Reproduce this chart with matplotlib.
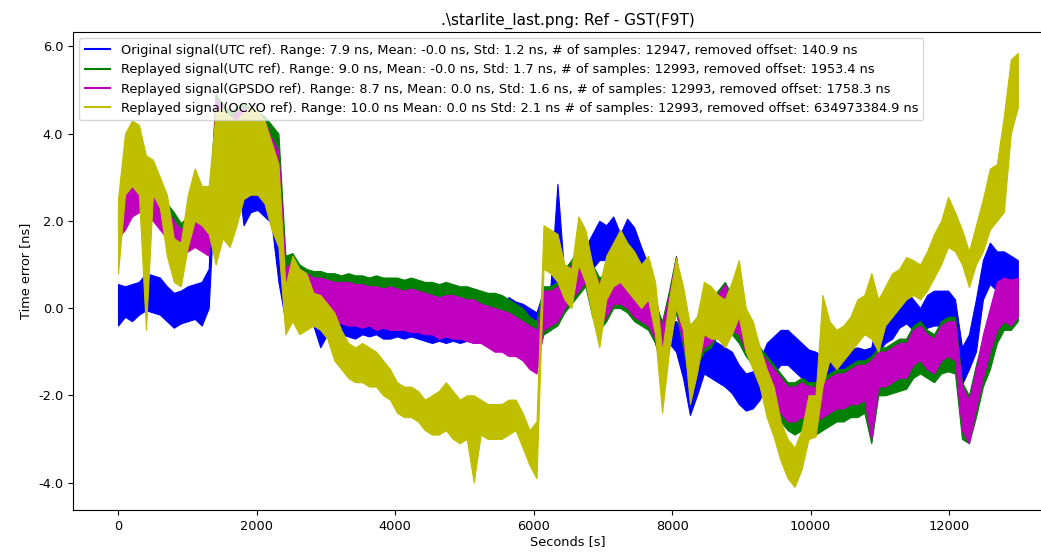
import numpy as np
import matplotlib
matplotlib.use("Agg")
import matplotlib.pyplot as plt
from matplotlib.lines import Line2D
from matplotlib.ticker import FormatStrFormatter

# time grid (s), one sample column every ~100 s
seconds = np.linspace(0, 12990, 130)

blue_hi = [0.55, 0.5, 0.55, 0.6, 0.8, 0.75, 0.7, 0.5, 0.35, 0.4,
           0.5, 0.55, 0.6, 0.9, 4.9, 4.5, 4.4, 4.3, 3.5, 3.1,
           3.0, 2.9, 2.7, 2.0, 0.5, 0.4, 0.2, 0.15, 0.1, 0.0,
           -0.05, -0.05, -0.1, -0.1, -0.1, -0.05, -0.1, -0.1, -0.15, -0.1,
           -0.1, -0.15, -0.1, -0.15, -0.2, -0.25, -0.2, -0.25, -0.2, -0.25,
           -0.2, -0.25, -0.2, -0.2, -0.15, 0.1, 0.25, 0.15, 0.1, 0.0,
           -0.1, 0.4, 0.5, 2.85, 0.7, 0.9, 1.2, 1.4, 1.7, 2.0,
           1.9, 2.1, 1.7, 2.05, 1.85, 1.4, 1.0, 0.3, -0.5, -0.3,
           -0.3, -0.6, -1.0, -1.0, -0.75, -0.7, -0.8, -0.9, -1.0, -1.3,
           -1.5, -1.45, -1.2, -0.8, -0.65, -0.5, -0.5, -0.65, -0.8, -0.95,
           -1.0, -1.1, -1.05, -1.0, -0.95, -0.95, -0.9, -0.95, -0.9, -0.1,
           0.0, 0.0, 0.3, 0.4, 0.2, 0.0, 0.3, 0.4, 0.4, 0.4,
           0.2, -0.9, -0.6, 0.2, 1.1, 1.5, 1.3, 1.3, 1.2, 1.1]
blue_lo = [-0.4, -0.2, -0.3, -0.15, -0.05, -0.1, -0.15, -0.3, -0.45, -0.35,
           -0.3, -0.25, -0.4, 0.0, 3.2, 3.3, 3.3, 3.2, 1.9, 2.2,
           2.25, 2.1, 1.95, 0.6, -0.3, -0.2, -0.3, -0.3, -0.4, -0.9,
           -0.6, -0.65, -0.6, -0.65, -0.7, -0.6, -0.65, -0.6, -0.7, -0.7,
           -0.65, -0.7, -0.65, -0.7, -0.75, -0.8, -0.75, -0.8, -0.75, -0.8,
           -0.75, -0.8, -0.7, -0.75, -0.7, -0.5, -0.4, -0.45, -0.55, -0.7,
           -0.7, -0.6, -0.5, 0.0, -0.1, 0.2, 0.4, 0.5, 0.9, 1.1,
           1.1, 1.25, 1.0, 1.3, 1.1, 0.7, 0.2, -0.8, -1.4, -0.8,
           -1.0, -1.6, -2.45, -2.0, -1.5, -1.6, -1.7, -1.8, -1.95, -2.2,
           -2.35, -2.3, -2.1, -1.7, -1.5, -1.3, -1.3, -1.45, -1.6, -1.7,
           -1.75, -1.8, -1.7, -1.6, -1.55, -1.5, -1.55, -1.6, -1.5, -1.0,
           -0.8, -0.7, -0.45, -0.35, -0.5, -0.6, -0.45, -0.4, -0.4, -0.45,
           -0.7, -1.75, -1.4, -1.0, 0.2, 0.55, 0.4, 0.6, 0.65, 0.5]

green_hi = [2.4, 3.0, 3.25, 3.1, 3.0, 2.8, 2.6, 2.4, 2.2, 1.95,
            2.1, 2.25, 2.2, 2.2, 4.9, 4.7, 4.5, 4.6, 4.7, 4.6,
            4.5, 4.4, 4.2, 4.0, 1.2, 1.26, 1.0, 0.9, 0.85, 0.85,
            0.8, 0.8, 0.75, 0.8, 0.75, 0.75, 0.7, 0.75, 0.7, 0.7,
            0.7, 0.65, 0.7, 0.65, 0.6, 0.6, 0.55, 0.6, 0.55, 0.5,
            0.5, 0.45, 0.4, 0.35, 0.35, 0.3, 0.2, 0.1, 0.0, -0.2,
            -0.3, 0.5, 0.5, 0.6, 0.9, 1.1, 1.4, 1.5, 1.0, 0.7,
            0.8, 0.95, 0.9, 0.8, 0.6, 0.4, 0.4, 0.1, -0.3, 0.4,
            1.2, 0.1, -0.4, -0.2, 0.2, 0.2, 0.4, 0.6, 0.3, 0.0,
            -0.2, -0.5, -0.9, -1.1, -1.3, -1.5, -1.7, -1.7, -1.6, -1.7,
            -1.7, -1.6, -1.5, -1.4, -1.4, -1.3, -1.2, -1.2, -1.1, -0.9,
            -0.9, -0.8, -0.7, -0.7, -0.4, -0.3, -0.5, -0.6, -0.3, -0.2,
            -0.2, -1.7, -2.0, -1.3, -0.7, -0.2, 0.3, 0.5, 0.4, 0.5]
green_lo = [1.8, 2.0, 2.3, 2.3, 2.2, 2.1, 1.9, 1.7, 1.5, 1.3,
            1.4, 1.5, 1.4, 1.3, 3.5, 3.4, 3.3, 3.5, 3.6, 3.6,
            3.5, 3.4, 3.1, 2.7, -0.2, 0.1, 0.1, 0.0, 0.0, 0.0,
            -0.05, -0.05, -0.1, -0.1, -0.15, -0.15, -0.1, -0.2, -0.15, -0.2,
            -0.2, -0.2, -0.25, -0.25, -0.3, -0.3, -0.4, -0.35, -0.4, -0.4,
            -0.45, -0.5, -0.5, -0.6, -0.7, -0.7, -0.8, -0.8, -0.9, -1.1,
            -1.2, -0.6, -0.5, -0.4, -0.1, 0.1, 0.3, 0.5, -0.2, -0.5,
            -0.3, 0.0, 0.0, -0.1, -0.3, -0.4, -0.5, -0.8, -1.1, -0.7,
            -0.1, -0.9, -1.7, -1.3, -1.0, -0.9, -0.6, -0.5, -0.6, -0.8,
            -1.1, -1.3, -1.7, -2.0, -2.3, -2.6, -2.8, -2.9, -2.8, -2.9,
            -2.9, -2.8, -2.7, -2.6, -2.6, -2.5, -2.5, -2.4, -3.1, -2.0,
            -2.0, -1.95, -1.9, -1.85, -1.6, -1.5, -1.6, -1.7, -1.5, -1.45,
            -1.5, -3.0, -3.1, -2.5, -1.8, -1.4, -0.8, -0.5, -0.5, -0.3]

magenta_hi = [2.25, 2.7, 3.0, 2.9, 2.8, 2.7, 2.5, 2.25, 2.0, 1.8,
              2.0, 2.1, 2.0, 2.0, 4.8, 4.6, 4.3, 4.5, 4.6, 4.5,
              4.4, 4.3, 3.9, 3.6, 0.9, 1.1, 0.9, 0.8, 0.7, 0.7,
              0.65, 0.6, 0.6, 0.6, 0.55, 0.55, 0.5, 0.5, 0.45, 0.5,
              0.45, 0.4, 0.45, 0.4, 0.35, 0.3, 0.25, 0.3, 0.3, 0.25,
              0.2, 0.2, 0.1, 0.05, 0.0, -0.05, -0.1, -0.2, -0.3, -0.4,
              -0.5, 0.4, 0.4, 0.5, 0.8, 1.0, 1.3, 1.4, 0.9, 0.6,
              0.7, 0.85, 0.8, 0.7, 0.5, 0.3, 0.3, 0.0, -0.4, 0.3,
              1.17, 0.0, -0.5, -0.3, 0.1, 0.1, 0.3, 0.55, 0.2, -0.1,
              -0.3, -0.6, -1.0, -1.2, -1.4, -1.6, -1.8, -1.8, -1.7, -1.8,
              -1.8, -1.7, -1.6, -1.5, -1.5, -1.4, -1.3, -1.3, -1.2, -1.0,
              -1.0, -0.9, -0.8, -0.8, -0.5, -0.4, -0.6, -0.7, -0.4, -0.3,
              -0.3, -1.8, -2.1, -1.4, -0.6, 0.0, 0.6, 0.7, 0.65, 0.7]
magenta_lo = [1.6, 1.8, 2.1, 2.2, 2.1, 2.0, 1.8, 1.6, 1.3, 1.2,
              1.3, 1.4, 1.3, 1.2, 3.4, 3.3, 3.2, 3.4, 3.5, 3.5,
              3.4, 3.3, 2.9, 2.5, -0.5, -0.2, -0.2, -0.3, -0.3, -0.3,
              -0.35, -0.3, -0.35, -0.4, -0.4, -0.45, -0.4, -0.5, -0.45, -0.5,
              -0.5, -0.5, -0.55, -0.55, -0.6, -0.6, -0.7, -0.65, -0.7, -0.7,
              -0.75, -0.8, -0.8, -0.9, -1.0, -1.0, -1.1, -1.1, -1.2, -1.4,
              -1.5, -0.5, -0.4, -0.3, 0.0, 0.2, 0.4, 0.6, -0.1, -0.4,
              -0.2, 0.1, 0.1, 0.0, -0.2, -0.3, -0.4, -0.7, -1.0, -0.6,
              0.0, -0.8, -1.6, -1.2, -0.9, -0.8, -0.5, -0.4, -0.5, -0.6,
              -1.0, -1.2, -1.6, -1.9, -2.2, -2.4, -2.6, -2.6, -2.5, -2.6,
              -2.6, -2.5, -2.4, -2.3, -2.3, -2.2, -2.2, -2.1, -3.0, -1.8,
              -1.8, -1.7, -1.6, -1.6, -1.3, -1.2, -1.4, -1.5, -1.2, -1.1,
              -1.2, -2.8, -3.1, -2.3, -1.6, -1.0, -0.5, -0.3, -0.4, -0.2]

yellow_hi = [2.5, 4.0, 4.3, 4.2, 3.5, 3.4, 3.0, 2.6, 1.6, 1.5,
             2.6, 3.2, 2.8, 2.8, 4.5, 4.6, 4.4, 4.3, 4.5, 4.6,
             4.5, 4.3, 3.8, 3.3, 0.5, 1.2, 0.9, 0.8, 0.35, 0.3,
             0.1, -0.1, -0.5, -0.8, -0.9, -0.8, -0.9, -1.0, -1.2, -1.4,
             -1.7, -1.8, -1.8, -1.9, -2.1, -2.0, -1.9, -1.7, -1.9, -2.1,
             -2.0, -2.0, -2.1, -2.2, -2.2, -2.2, -2.1, -2.1, -2.4, -2.8,
             -2.6, 1.9, 1.8, 1.7, 1.0, 0.9, 2.1, 1.8, 1.0, 0.5,
             1.2, 1.5, 1.8, 1.5, 1.3, 1.0, 1.2, 0.6, -1.0, 0.2,
             1.15, 0.5, -0.4, -0.2, 0.6, 0.5, 0.3, 0.2, 0.6, 1.1,
             0.0, -0.3, -0.9, -1.4, -1.8, -2.6, -3.0, -3.2, -2.8, -2.0,
             -2.0, 0.3, -0.3, -0.5, -0.4, -0.2, 0.2, 0.3, 0.8, 0.2,
             0.5, 0.8, 0.9, 1.17, 1.1, 1.0, 1.3, 1.7, 2.0, 2.55,
             2.2, 1.8, 1.3, 1.9, 2.5, 3.2, 3.3, 4.4, 5.7, 5.85]
yellow_lo = [0.8, 2.6, 2.8, 2.6, -0.5, 2.6, 2.3, 1.2, 0.6, 0.5,
             1.4, 2.0, 1.9, 1.7, 1.0, 1.6, 1.4, 1.9, 2.5, 2.6,
             2.6, 2.4, 1.8, 1.4, -0.6, -0.3, -0.6, -0.5, -0.4, -0.5,
             -0.7, -1.2, -1.4, -1.6, -1.7, -1.7, -1.8, -1.8, -2.0, -2.1,
             -2.4, -2.5, -2.5, -2.6, -2.8, -2.9, -2.9, -2.8, -3.0, -3.1,
             -3.0, -4.0, -2.9, -3.0, -3.0, -3.0, -2.9, -2.8, -3.2, -3.6,
             -3.9, 0.9, 0.8, 0.6, 0.2, 0.0, 1.0, 0.6, -0.2, -0.9,
             0.2, 0.5, 0.6, 0.4, 0.2, 0.0, 0.2, -0.6, -2.4, -1.0,
             0.0, -0.5, -2.2, -1.5, -0.6, -0.7, -0.7, -0.9, -0.6, -0.2,
             -1.0, -1.4, -1.8, -2.5, -2.95, -3.5, -3.9, -4.1, -3.7, -3.0,
             -2.95, -1.8, -1.2, -1.4, -1.2, -1.0, -0.8, -0.6, -0.7, -1.0,
             -0.4, -0.2, 0.0, 0.2, 0.3, 0.2, 0.4, 0.7, 1.0, 1.4,
             1.3, 1.0, 0.48, 1.0, 1.3, 1.8, 2.0, 2.2, 4.0, 4.6]

labels = [
    "Original signal(UTC ref). Range: 7.9 ns, Mean: -0.0 ns, Std: 1.2 ns, # of samples: 12947, removed offset: 140.9 ns",
    "Replayed signal(UTC ref). Range: 9.0 ns, Mean: -0.0 ns, Std: 1.7 ns, # of samples: 12993, removed offset: 1953.4 ns",
    "Replayed signal(GPSDO ref). Range: 8.7 ns, Mean: 0.0 ns, Std: 1.6 ns, # of samples: 12993, removed offset: 1758.3 ns",
    "Replayed signal(OCXO ref). Range: 10.0 ns Mean: 0.0 ns Std: 2.1 ns # of samples: 12993, removed offset: 634973384.9 ns",
]
colors = ["b", "g", "m", "y"]
series = [(blue_lo, blue_hi), (green_lo, green_hi), (magenta_lo, magenta_hi), (yellow_lo, yellow_hi)]

plt.rcParams["font.family"] = ["DejaVu Sans"]
plt.rcParams["font.size"] = 9.3

fig = plt.figure(figsize=(10.41, 5.56), dpi=100)
ax = fig.add_axes([73 / 1041, 46 / 556, 990 / 1041, 478 / 556])

for (lo, hi), c in zip(series, colors):
    ax.fill_between(seconds, lo, hi, color=c, linewidth=0.8, edgecolor=c)

handles = [Line2D([0], [0], color=c, lw=1.5) for c in colors]
ax.legend(handles, labels, loc="upper left", fontsize=9.3)

ax.set_xlim(-650, 13643)
ax.set_ylim(-4.63, 6.33)
ax.set_yticks([-4, -2, 0, 2, 4, 6])
ax.set_xticks([0, 2000, 4000, 6000, 8000, 10000, 12000])
ax.yaxis.set_major_formatter(FormatStrFormatter("%.1f"))
ax.spines["right"].set_visible(False)
ax.set_xlabel("Seconds [s]", labelpad=2)
ax.set_ylabel("Time error [ns]")
ax.set_title(r".\starlite_last.png: Ref - GST(F9T)", fontsize=11, pad=5)

fig.savefig("out.png", dpi=100)
